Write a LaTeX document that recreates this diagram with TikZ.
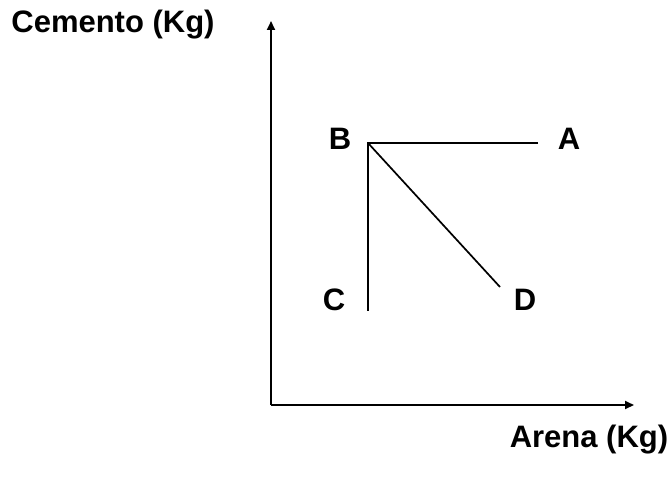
\documentclass[tikz,border=0pt]{standalone}
\usepackage{fontspec}
\setmainfont{Liberation Sans}
\usetikzlibrary{arrows.meta}
\begin{document}
\begin{tikzpicture}[x=1pt,y=-1pt,
  axis/.style={line width=2.2pt,-{Triangle[length=9pt,width=8pt]}},
  seg/.style={line width=1.7pt},
  lbl/.style={font=\fontsize{31}{33}\selectfont\bfseries,inner sep=0pt}]
\useasboundingbox (0,0) rectangle (667,484);
\coordinate (O) at (271,405);
\coordinate (Ytip) at (271,21);
\coordinate (Xtip) at (634,405);
\coordinate (Bp) at (368,143);
\coordinate (Ap) at (538,143);
\coordinate (Cp) at (368,311);
\coordinate (Dp) at (500,287);
\draw[axis] (O) -- (Ytip);
\draw[axis] (O) -- (Xtip);
\draw[seg] (Ap) -- (Bp) -- (Cp);
\draw[seg] (Bp) -- (Dp);
\node[lbl] (B) at (340,139) {B};
\node[lbl] (A) at (569,139) {A};
\node[lbl] (C) at (334,300) {C};
\node[lbl] (D) at (525,300) {D};
\node[lbl] (yl) at (113,25) {Cemento (Kg)};
\node[lbl] (xl) at (589,440) {Arena (Kg)};
\end{tikzpicture}
\end{document}
